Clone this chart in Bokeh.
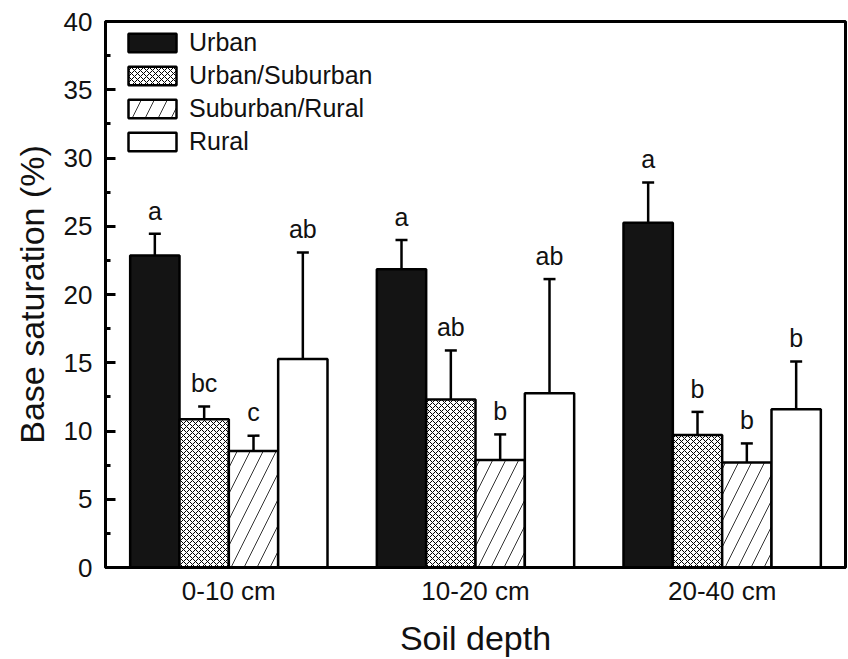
from bokeh.plotting import figure
from bokeh.models import Range1d, ColumnDataSource, Whisker, Legend, LegendItem, FixedTicker
from bokeh.core.properties import value
from bokeh.embed import file_html
from bokeh.resources import INLINE

depths = ["0-10 cm", "10-20 cm", "20-40 cm"]
series = ["Urban", "Urban/Suburban", "Suburban/Rural", "Rural"]
urban = [22.85, 21.85, 25.25]
urban_sd = [1.6, 2.15, 2.95]
urban_sub = [10.86, 12.31, 9.71]
urban_sub_sd = [0.93, 3.59, 1.69]
sub_rural = [8.53, 7.87, 7.70]
sub_rural_sd = [1.13, 1.88, 1.39]
rural = [15.27, 12.77, 11.60]
rural_sd = [7.8, 8.36, 3.49]
letters_urban = ["a", "a", "a"]
letters_urban_sub = ["bc", "ab", "b"]
letters_sub_rural = ["c", "b", "b"]
letters_rural = ["ab", "ab", "b"]
y_ticks = [0, 5, 10, 15, 20, 25, 30, 35, 40]

FONT = "Liberation Sans"

p = figure(width=848, height=659, output_backend="svg", toolbar_location=None,
           x_range=Range1d(0.5, 3.5), y_range=Range1d(0, 40),
           min_border_left=105, min_border_right=3, min_border_top=21, min_border_bottom=92)
p.grid.visible = False
p.outline_line_color = "black"
p.outline_line_width = 3
p.background_fill_color = "white"
p.border_fill_color = "white"

styles = [
    dict(fill_color="#141414"),
    dict(fill_color="white", hatch_pattern="x", hatch_scale=6, hatch_weight=1, hatch_color="black"),
    dict(fill_color="white", hatch_pattern="/", hatch_scale=26, hatch_weight=1, hatch_color="#333333"),
    dict(fill_color="white"),
]
vals = [urban, urban_sub, sub_rural, rural]
sds = [urban_sd, urban_sub_sd, sub_rural_sd, rural_sd]
lets = [letters_urban, letters_urban_sub, letters_sub_rural, letters_rural]
offsets = [-0.3, -0.1, 0.1, 0.3]
width = 0.2

items = []
for k in range(4):
    xs = [i + 1 + offsets[k] for i in range(len(depths))]
    up = [v + s for v, s in zip(vals[k], sds[k])]
    lo = [v - s for v, s in zip(vals[k], sds[k])]
    src = ColumnDataSource(dict(x=xs, top=vals[k], upper=up, lower=lo,
                                ly=[u + 1.7 for u in up], lt=lets[k]))
    r = p.vbar(x="x", top="top", bottom=0, width=width, source=src,
               line_color="black", line_width=2.5, **styles[k])
    items.append(LegendItem(label=series[k], renderers=[r]))
    w = Whisker(base="x", upper="upper", lower="lower", source=src,
                line_color="black", line_width=2.5)
    for h in (w.upper_head, w.lower_head):
        h.size = 12
        h.line_width = 2.5
        h.line_color = "black"
    p.add_layout(w)
    p.text(x="x", y="ly", text="lt", source=src, text_align="center",
           text_baseline="alphabetic", text_font=value(FONT), text_font_size="25px",
           text_color="#111111")

legend = Legend(items=items, location=(17, 411), padding=0, margin=0,
                glyph_width=60, glyph_height=23, label_height=23, spacing=4,
                label_standoff=7, label_text_font=FONT, label_text_font_size="25px",
                label_text_color="#111111",
                border_line_alpha=0, background_fill_alpha=0)
p.add_layout(legend)

# y axis
ya = p.yaxis[0]
ya.ticker = FixedTicker(ticks=y_ticks, minor_ticks=[t + 2.5 for t in y_ticks[:-1]])
ya.axis_line_width = 3
ya.major_tick_in = 10
ya.major_tick_out = 0
ya.minor_tick_in = 5
ya.minor_tick_out = 0
ya.major_tick_line_width = 3
ya.minor_tick_line_width = 3
ya.major_label_text_font = FONT
ya.major_label_text_font_size = "26px"
ya.major_label_text_color = "#111111"
ya.major_label_standoff = 13
ya.axis_label = "Base saturation (%)"
ya.axis_label_text_font = FONT
ya.axis_label_text_font_size = "34px"
ya.axis_label_text_font_style = "normal"
ya.axis_label_text_color = "#111111"
ya.axis_label_standoff = 10

xa = p.xaxis[0]
xa.ticker = FixedTicker(ticks=[1, 2, 3])
xa.major_label_overrides = {i + 1: d for i, d in enumerate(depths)}
xa.axis_line_width = 3
xa.major_tick_in = 0
xa.major_tick_out = 0
xa.minor_tick_line_color = None
xa.major_label_text_font = FONT
xa.major_label_text_font_size = "26px"
xa.major_label_text_color = "#111111"
xa.major_label_standoff = 8
xa.axis_label = "Soil depth"
xa.axis_label_text_font = FONT
xa.axis_label_text_font_size = "34px"
xa.axis_label_text_font_style = "normal"
xa.axis_label_text_color = "#111111"
xa.axis_label_standoff = 10

open("out.html", "w").write(file_html(p, INLINE))
